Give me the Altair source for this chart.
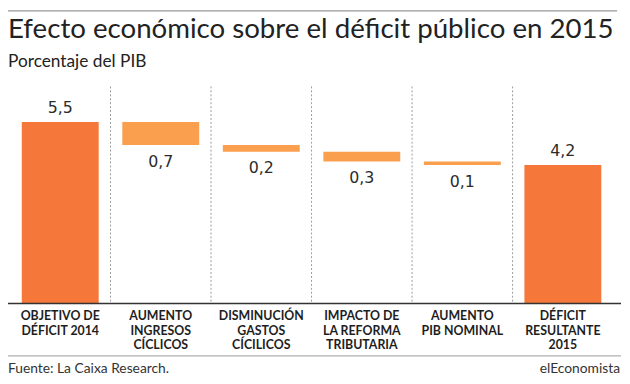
import altair as alt
import pandas as pd

# ---- data ----
categories = [
    "OBJETIVO DE\nDÉFICIT 2014",
    "AUMENTO\nINGRESOS\nCÍCLICOS",
    "DISMINUCIÓN\nGASTOS\nCÍCILICOS",
    "IMPACTO DE\nLA REFORMA\nTRIBUTARIA",
    "AUMENTO\nPIB NOMINAL",
    "DÉFICIT\nRESULTANTE\n2015",
]
values = [5.5, 0.7, 0.2, 0.3, 0.1, 4.2]
kinds = ["total", "delta", "delta", "delta", "delta", "total"]
value_labels = ["5,5", "0,7", "0,2", "0,3", "0,1", "4,2"]
separators = [1, 2, 3, 4, 5]

title_text = "Efecto económico sobre el déficit público en 2015"
subtitle_text = "Porcentaje del PIB"
source_text = "Fuente: La Caixa Research."
brand_text = "elEconomista"

# waterfall start/end computed from the values
rows = []
running = 0.0
for i, (c, v, k, lab) in enumerate(zip(categories, values, kinds, value_labels)):
    if k == "total":
        start, end = 0.0, v
        running = v
    else:
        start, end = running, running - v
        running = running - v
    rows.append({"key": f"c{i}", "cat": c, "start": start, "end": end,
                 "kind": k, "label": lab,
                 "tlabel": lab if k == "total" else "",
                 "dlabel": lab if k == "delta" else ""})
df = pd.DataFrame(rows)
order = list(df["key"])

W, H = 611, 220
YMAX = 6.577

xband = alt.X("key:N", sort=order, axis=None,
              scale=alt.Scale(paddingInner=0.235, paddingOuter=0.1175))
yscale = alt.Scale(domain=[0, YMAX], nice=False, zero=True)

base = alt.Chart(df)

bars = base.mark_bar().encode(
    x=xband,
    y=alt.Y("start:Q", scale=yscale, axis=None),
    y2="end:Q",
    color=alt.Color("kind:N", legend=None,
                    scale=alt.Scale(domain=["total", "delta"],
                                    range=["#F5773A", "#FA9F4E"])),
)

total_labels = base.mark_text(
    font="DejaVu Sans", fontSize=16, color="#2b2b2b", baseline="alphabetic", dy=-9
).encode(x=xband, y=alt.Y("end:Q", scale=yscale, axis=None), text="tlabel:N")

delta_labels = base.mark_text(
    font="DejaVu Sans", fontSize=16, color="#2b2b2b", baseline="alphabetic", dy=22
).encode(x=xband, y=alt.Y("end:Q", scale=yscale, axis=None), text="dlabel:N")

cat_labels = base.mark_text(
    font="Lato", fontSize=12.5, fontWeight="bold", color="#1e1e1e",
    baseline="alphabetic", lineBreak="\n", lineHeight=15
).encode(x=xband, y=alt.value(236.5), text="cat:N")

sep = alt.Chart(pd.DataFrame({"s": separators})).mark_rule(
    color="#9a9a9a", strokeDash=[2, 2], strokeWidth=1
).encode(
    x=alt.X("s:Q", scale=alt.Scale(domain=[0, 6], nice=False), axis=None),
    y=alt.value(0), y2=alt.value(H),
)

def hline(y, x1, x2, color, width):
    return alt.Chart(pd.DataFrame({"a": [0]})).mark_rule(
        color=color, strokeWidth=width
    ).encode(x=alt.value(x1), x2=alt.value(x2), y=alt.value(y))

baseline_rule = hline(H, -2, 619, "#333333", 1.5)
top_rule = hline(-76.5, -2, 615, "#7a7a7a", 1)
foot_rule = hline(273, -2, 619, "#9a9a9a", 1)

def label(text, x, y, size, align="left", weight="normal", color="#222222"):
    return alt.Chart(pd.DataFrame({"t": [text]})).mark_text(
        font="Lato", fontSize=size, fontWeight=weight, color=color,
        align=align, baseline="alphabetic"
    ).encode(x=alt.value(x), y=alt.value(y), text="t:N")

title = label(title_text, -2, -49, 28)
subtitle = label(subtitle_text, -2, -20, 17.5)
source = label(source_text, -2, 290, 14, color="#333333")
brand = label(brand_text, 618, 290, 14, align="right", color="#333333")

chart = alt.layer(
    sep, bars, total_labels, delta_labels, cat_labels,
    baseline_rule, top_rule, foot_rule, title, subtitle, source, brand
).resolve_scale(x="independent").properties(
    width=W, height=H,
    padding={"left": 2, "top": 77, "right": 9, "bottom": 79},
    autosize=alt.AutoSizeParams(type="none"),
).configure_view(stroke=None)

chart.save("out.html", embed_options={"renderer": "svg", "actions": False})
